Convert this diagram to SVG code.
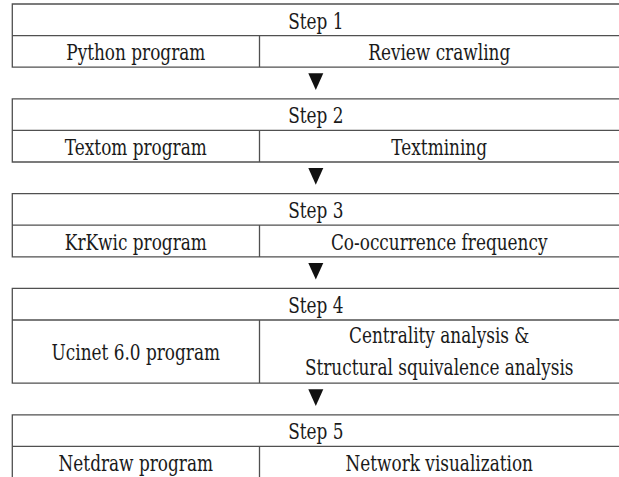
<svg xmlns="http://www.w3.org/2000/svg" width="619" height="477" viewBox="0 0 619 477">
<style>
.ln{fill:none;stroke:#505050;stroke-width:1.3}
.t{font-family:'DejaVu Serif','Liberation Serif',serif;font-size:23px;fill:#1a1a1a;text-anchor:middle}
.ar{fill:#111}
</style>
<rect width="619" height="477" fill="#fff"/>
<g id="step1">
<path class="ln" d="M619 4H12.3V67.2H619M12.3 35.6H619M259.5 35.6V67.2"/>
<text class="t" transform="translate(315.8 28.6) scale(0.735 1)">Step 1</text>
<text class="t" transform="translate(135.8 60.2) scale(0.735 1)">Python program</text>
<text class="t" transform="translate(439.2 60.2) scale(0.735 1)">Review crawling</text>
</g>
<g id="step2">
<path class="ln" d="M619 98.8H12.3V162H619M12.3 130.4H619M259.5 130.4V162"/>
<text class="t" transform="translate(315.8 123.4) scale(0.735 1)">Step 2</text>
<text class="t" transform="translate(135.8 155) scale(0.735 1)">Textom program</text>
<text class="t" transform="translate(439.2 155) scale(0.735 1)">Textmining</text>
</g>
<g id="step3">
<path class="ln" d="M619 193.6H12.3V256.8H619M12.3 225.2H619M259.5 225.2V256.8"/>
<text class="t" transform="translate(315.8 218.2) scale(0.735 1)">Step 3</text>
<text class="t" transform="translate(135.8 249.8) scale(0.735 1)">KrKwic program</text>
<text class="t" transform="translate(439.2 249.8) scale(0.735 1)">Co-occurrence frequency</text>
</g>
<g id="step4">
<path class="ln" d="M619 288.4H12.3V383.2H619M12.3 320H619M259.5 320V383.2"/>
<text class="t" transform="translate(315.8 313) scale(0.735 1)">Step 4</text>
<text class="t" transform="translate(135.8 360.4) scale(0.735 1)">Ucinet 6.0 program</text>
<text class="t" transform="translate(439.2 343.3) scale(0.735 1)">Centrality analysis &amp;</text>
<text class="t" transform="translate(439.2 374.8) scale(0.735 1)">Structural squivalence analysis</text>
</g>
<g id="step5">
<path class="ln" d="M619 414.8H12.3V478M12.3 446.4H619M259.5 446.4V478"/>
<text class="t" transform="translate(315.8 439.4) scale(0.735 1)">Step 5</text>
<text class="t" transform="translate(135.8 471) scale(0.735 1)">Netdraw program</text>
<text class="t" transform="translate(439.2 471) scale(0.735 1)">Network visualization</text>
</g>
<g id="connectors">
<polygon class="ar" points="308.3,73.3 323.3,73.3 315.8,90"/>
<polygon class="ar" points="308.3,168.1 323.3,168.1 315.8,184.8"/>
<polygon class="ar" points="308.3,262.9 323.3,262.9 315.8,279.6"/>
<polygon class="ar" points="308.3,389.3 323.3,389.3 315.8,406"/>
</g>
</svg>
